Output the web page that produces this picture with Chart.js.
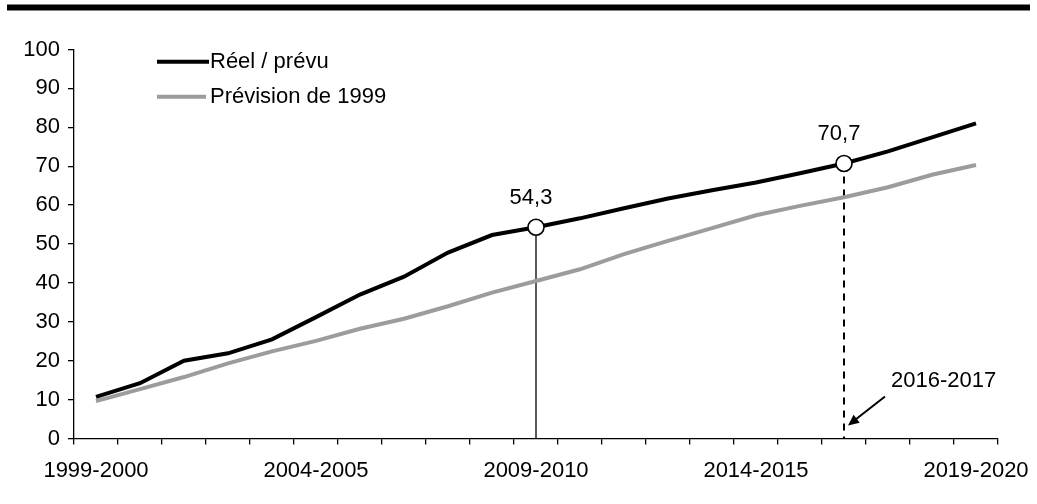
<!DOCTYPE html>
<html><head><meta charset="utf-8">
<script src="https://cdn.jsdelivr.net/npm/chart.js@4.4.1/dist/chart.umd.min.js"></script>
<style>html,body{margin:0;padding:0;background:#fff;}canvas{display:block;}</style>
</head><body>
<canvas id="c" width="1037" height="504"></canvas>
<script>
const categories = ['1999-2000','2000-2001','2001-2002','2002-2003','2003-2004','2004-2005','2005-2006','2006-2007','2007-2008','2008-2009','2009-2010','2010-2011','2011-2012','2012-2013','2013-2014','2014-2015','2015-2016','2016-2017','2017-2018','2018-2019','2019-2020'];
const reelPrevu = [10.7, 14.2, 20.0, 21.9, 25.5, 31.2, 37.0, 41.6, 47.8, 52.3, 54.3, 56.6, 59.2, 61.7, 63.8, 65.8, 68.2, 70.7, 73.8, 77.4, 81.0];
const prevision1999 = [9.6, 12.7, 15.8, 19.3, 22.4, 25.1, 28.2, 30.8, 34.0, 37.5, 40.5, 43.5, 47.4, 50.8, 54.1, 57.4, 59.8, 62.0, 64.6, 67.8, 70.3];
const seriesNames = ['Réel / prévu', 'Prévision de 1999'];
const highlightIndexes = [10, 17];
const highlightLabels = ['54,3', '70,7'];
const arrowIndex = 17;
const arrowLabel = '2016-2017';
const labelEvery = 5;
const yMin = 0, yMax = 100, yStep = 10;

const FONT = '"Liberation Sans", Arial, Helvetica, sans-serif';
const FS = 22;
Chart.defaults.font.family = FONT;
Chart.defaults.font.size = FS;
Chart.defaults.color = '#000';

const overlay = {
  id: 'overlay',
  beforeDatasetsDraw(chart) {
    const ctx = chart.ctx, xs = chart.scales.x, ys = chart.scales.y;
    const y0 = ys.getPixelForValue(0);
    highlightIndexes.forEach((idx, k) => {
      const x = xs.getPixelForValue(idx);
      const y = ys.getPixelForValue(reelPrevu[idx]);
      ctx.save();
      ctx.strokeStyle = '#000';
      if (k === 0) { ctx.lineWidth = 1.3; ctx.setLineDash([]); }
      else { ctx.lineWidth = 2; ctx.setLineDash([7, 6]); }
      ctx.beginPath(); ctx.moveTo(x, y); ctx.lineTo(x, y0); ctx.stroke();
      ctx.restore();
    });
  },
  afterDraw(chart) {
    const ctx = chart.ctx, xs = chart.scales.x, ys = chart.scales.y;
    ctx.save();
    // top rule
    ctx.fillStyle = '#000';
    ctx.fillRect(7, 4.5, 1023, 6);
    // legend
    ctx.lineWidth = 4; ctx.lineCap = 'butt';
    ctx.strokeStyle = '#000';
    ctx.beginPath(); ctx.moveTo(157, 61.7); ctx.lineTo(209, 61.7); ctx.stroke();
    ctx.strokeStyle = '#9c9c9c';
    ctx.beginPath(); ctx.moveTo(157, 96.7); ctx.lineTo(206, 96.7); ctx.stroke();
    ctx.fillStyle = '#000';
    ctx.font = FS + 'px ' + FONT;
    ctx.textAlign = 'left'; ctx.textBaseline = 'alphabetic';
    ctx.fillText(seriesNames[0], 210, 68);
    ctx.fillText(seriesNames[1], 210, 103);
    // value labels
    ctx.textAlign = 'center';
    highlightIndexes.forEach((idx, k) => {
      const x = xs.getPixelForValue(idx);
      const y = ys.getPixelForValue(reelPrevu[idx]);
      ctx.fillText(highlightLabels[k], x - 5, y - 23);
    });
    // arrow annotation
    const y0 = ys.getPixelForValue(0);
    const tipX = xs.getPixelForValue(arrowIndex) + 4, tipY = y0 - 13;
    const tailX = tipX + 37, tailY = tipY - 29;
    const ang = Math.atan2(tipY - tailY, tipX - tailX);
    ctx.strokeStyle = '#000'; ctx.lineWidth = 2;
    ctx.beginPath(); ctx.moveTo(tailX, tailY);
    ctx.lineTo(tipX - 8 * Math.cos(ang), tipY - 8 * Math.sin(ang)); ctx.stroke();
    ctx.beginPath();
    ctx.moveTo(tipX, tipY);
    ctx.lineTo(tipX - 11 * Math.cos(ang) + 5 * Math.sin(ang), tipY - 11 * Math.sin(ang) - 5 * Math.cos(ang));
    ctx.lineTo(tipX - 11 * Math.cos(ang) - 5 * Math.sin(ang), tipY - 11 * Math.sin(ang) + 5 * Math.cos(ang));
    ctx.closePath(); ctx.fill();
    ctx.textAlign = 'left';
    ctx.fillText(arrowLabel, tailX + 6, tailY - 10);
    ctx.restore();
  }
};

new Chart(document.getElementById('c'), {
  type: 'line',
  data: {
    labels: categories,
    datasets: [
      {
        label: seriesNames[0], data: reelPrevu,
        borderColor: '#000', borderWidth: 4, tension: 0, fill: false,
        pointRadius: categories.map((_, i) => highlightIndexes.includes(i) ? 8 : 0),
        pointHoverRadius: categories.map((_, i) => highlightIndexes.includes(i) ? 8 : 0),
        pointBackgroundColor: '#fff', pointBorderColor: '#000', pointBorderWidth: 1.6
      },
      {
        label: seriesNames[1], data: prevision1999,
        borderColor: '#9c9c9c', borderWidth: 4, tension: 0, fill: false,
        pointRadius: 0, pointHoverRadius: 0
      }
    ]
  },
  options: {
    responsive: false, animation: false, events: [],
    layout: { padding: { top: 49.5, right: 39, left: 0, bottom: 0 } },
    plugins: { legend: { display: false }, tooltip: { enabled: false } },
    scales: {
      x: {
        type: 'category', offset: true,
        grid: { offset: true, drawOnChartArea: false, drawTicks: true, tickLength: 6, color: '#000', lineWidth: 1.3 },
        border: { color: '#000', width: 1.3 },
        ticks: { autoSkip: false, maxRotation: 0, minRotation: 0, padding: 13, color: '#000',
          callback: (v, i) => (i % labelEvery === 0 ? categories[i] : '') },
        afterFit: s => { s.height = 65.5; s.paddingLeft = 0; s.paddingRight = 0; }
      },
      y: {
        min: yMin, max: yMax,
        ticks: { stepSize: yStep, padding: 8, color: '#000' },
        grid: { drawOnChartArea: false, drawTicks: true, tickLength: 6, color: '#000', lineWidth: 1.3 },
        border: { color: '#000', width: 1.3 },
        afterFit: s => { s.width = 74; s.paddingTop = 0; s.paddingBottom = 0; }
      }
    }
  },
  plugins: [overlay]
});
</script>
</body></html>
